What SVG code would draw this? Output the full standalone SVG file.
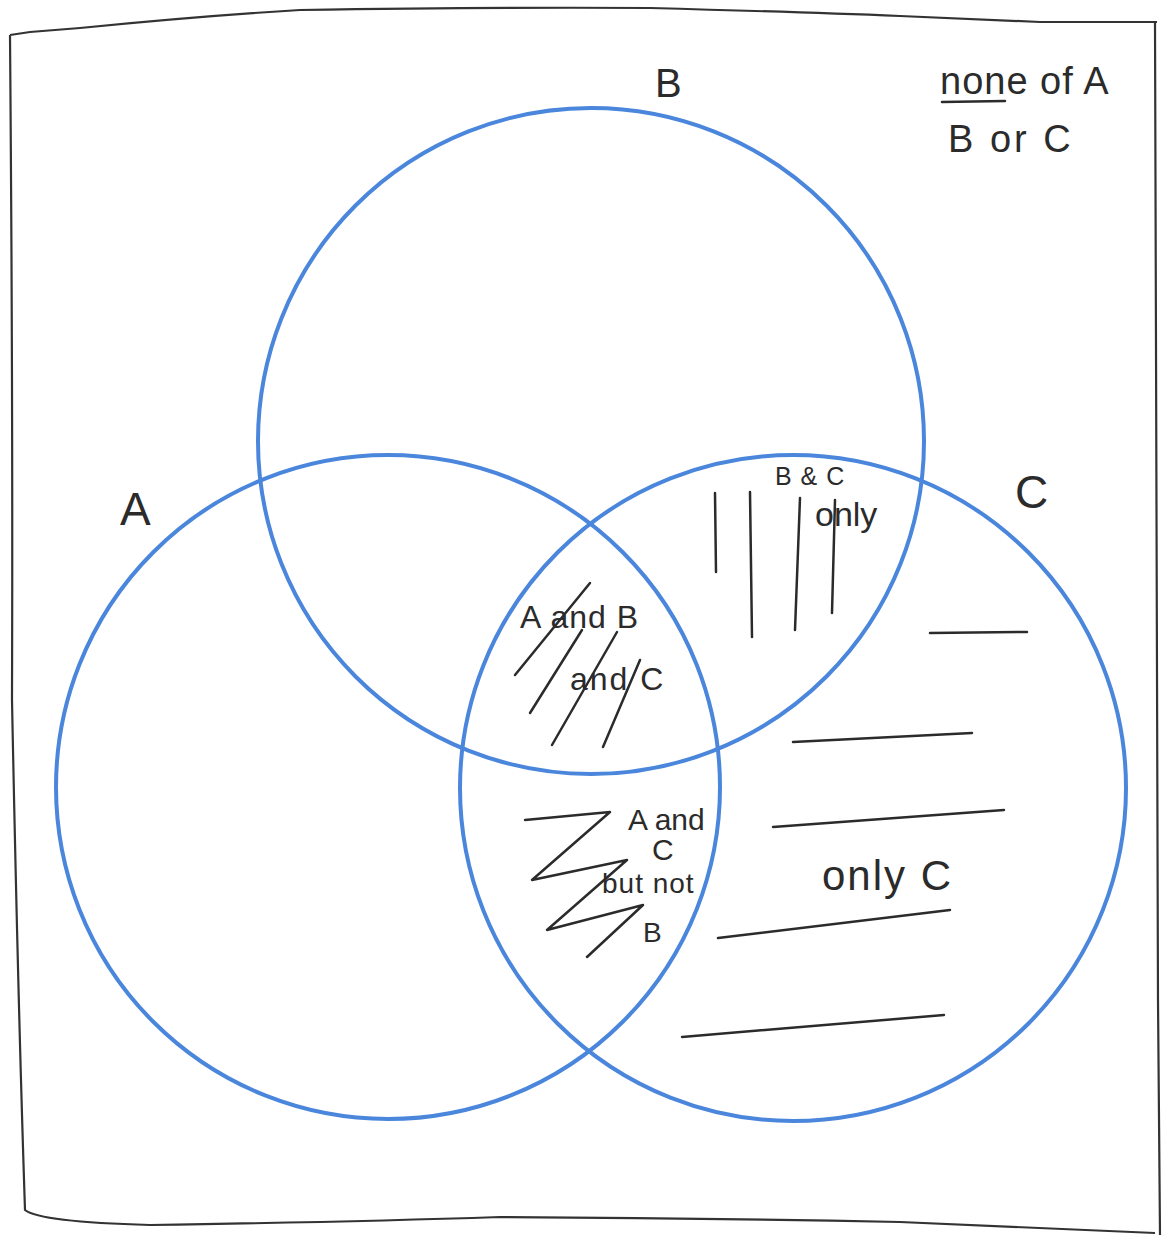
<svg xmlns="http://www.w3.org/2000/svg" width="1173" height="1241" viewBox="0 0 1173 1241">
<style>
.circ{fill:none;stroke:#4a86dc;stroke-width:4}
.ink{fill:none;stroke:#2b2b2b;stroke-width:2.5;stroke-linecap:round;stroke-linejoin:round}
.frame{fill:none;stroke:#333;stroke-width:2.2}
text{font-family:"Liberation Sans",Arial,sans-serif;fill:#2b2b2b}
</style>
<rect width="1173" height="1241" fill="#fff"/>
<path class="frame" d="M10,35 L30,32 L80,28 Q200,16 300,10 Q500,7 650,8 Q800,12 900,16 L1040,22 L1157,22 M10,35 Q13,400 12,700 Q18,1000 25,1210 Q40,1222 150,1225 Q350,1222 500,1217 Q700,1218 900,1222 L1155,1233 M1155,22 Q1158,600 1158,1000 L1160,1235"/>
<g id="circleA"><circle class="circ" cx="388" cy="787" r="332"/></g>
<g id="circleB"><circle class="circ" cx="591" cy="441" r="333"/></g>
<g id="circleC"><circle class="circ" cx="793" cy="788" r="333"/></g>
<g id="labels">
<text x="655" y="97" font-size="40">B</text>
<text x="120" y="525" font-size="46">A</text>
<text x="1015" y="508" font-size="46">C</text>
<text x="940" y="94" font-size="38" letter-spacing="1">none of A</text>
<path class="ink" d="M942,102 L1005,101"/>
<text x="948" y="152" font-size="38" letter-spacing="3">B or C</text>
</g>
<g id="hatching">
<path class="ink" d="M515,675 L590,583 M530,713 L582,630 M552,745 L617,632 M603,747 L640,660"/>
<path class="ink" d="M715,493 L716,572 M750,492 L752,637 M800,498 L795,630 M835,500 L832,613"/>
<path class="ink" d="M525,820 L610,812 L532,880 L627,860 L547,930 L643,905 L587,957"/>
<path class="ink" d="M930,633 L1027,632 M793,742 L972,733 M773,827 L1004,810 M718,938 L950,910 M682,1037 L944,1015"/>
</g>
<g id="regionText">
<text x="520" y="628" font-size="32" letter-spacing="1">A and B</text>
<text x="570" y="690" font-size="32" letter-spacing="2">and C</text>
<text x="775" y="485" font-size="25" letter-spacing="1">B &amp; C</text>
<text x="815" y="526" font-size="34">only</text>
<text x="628" y="830" font-size="30">A and</text>
<text x="652" y="860" font-size="30">C</text>
<text x="602" y="893" font-size="28" letter-spacing="1">but not</text>
<text x="643" y="942" font-size="28">B</text>
<text x="822" y="890" font-size="42" letter-spacing="2">only C</text>
</g>
</svg>
